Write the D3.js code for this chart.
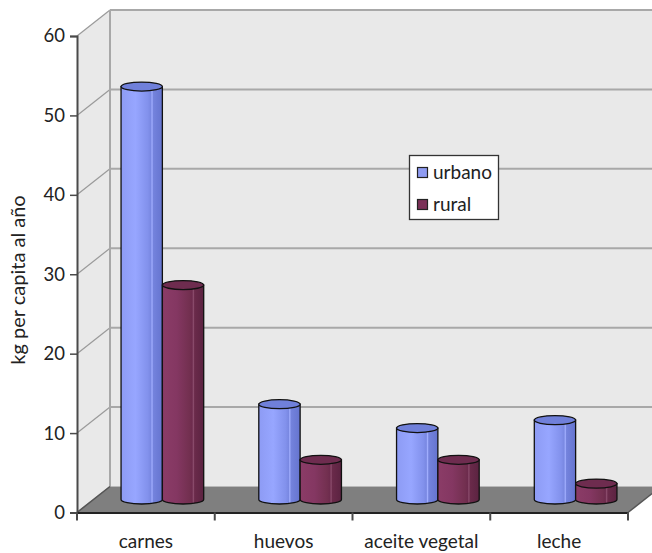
<!DOCTYPE html>
<html><head><meta charset="utf-8">
<script src="https://cdn.jsdelivr.net/npm/d3@7/dist/d3.min.js"></script>
<style>html,body{margin:0;padding:0;background:#fff;}svg{display:block;}</style>
</head><body>
<svg id="chart" width="652" height="553"></svg>
<script>
const categories = ["carnes", "huevos", "aceite vegetal", "leche"];
const seriesNames = ["urbano", "rural"];
const urbano = [52, 12, 9, 10];
const rural = [27, 5, 5, 2];
const yTicks = [0, 10, 20, 30, 40, 50, 60];
const yLabel = "kg per capita al año";

const svg = d3.select("#chart");
const W = 652, H = 553;
const x0 = 77, x1 = 628, yBase = 512.5, yTop = 36;
const DX = 33, DY = -26;
const font = "Lato, 'Open Sans', sans-serif";

const x = d3.scaleBand().domain(categories).range([x0, x1]).padding(0);
const y = d3.scaleLinear().domain([0, 60]).range([yBase, yTop]);

const defs = svg.append("defs");
function grad(id, stops) {
  const g = defs.append("linearGradient").attr("id", id).attr("x1", "0%").attr("x2", "100%").attr("y1", "0%").attr("y2", "0%");
  stops.forEach(s => g.append("stop").attr("offset", s[0]).attr("stop-color", s[1]));
}
grad("gU", [["0%", "#8d9bf4"], ["35%", "#97a6ff"], ["65%", "#8291ec"], ["72%", "#7988e2"], ["75%", "#a2afff"], ["78%", "#7483dd"], ["100%", "#6574cf"]]);
grad("gR", [["0%", "#8b3c67"], ["35%", "#843762"], ["65%", "#733050"], ["72%", "#6d2b4d"], ["75%", "#8c4d6d"], ["78%", "#6a2a4a"], ["100%", "#5b2341"]]);
const topCol = { urbano: "#7080da", rural: "#6e2c4f" };
const legCol = { urbano: "#8f9cf2", rural: "#7b3057" };

// walls
const wallFill = "#e9e9e9";
svg.append("path")
  .attr("d", `M${x0},${y(60)} L${x0 + DX},${y(60) + DY} L${x0 + DX},${y(0) + DY} L${x0},${y(0)} Z`)
  .attr("fill", wallFill);
svg.append("rect").attr("x", x0 + DX).attr("y", y(60) + DY).attr("width", W - (x0 + DX) + 5).attr("height", y(0) - y(60))
  .attr("fill", wallFill);

// gridlines
const grid = svg.append("g");
yTicks.forEach(t => {
  const yy = y(t);
  grid.append("line").attr("x1", x0).attr("y1", yy).attr("x2", x0 + DX).attr("y2", yy + DY)
    .attr("stroke", "#9a9a9a").attr("stroke-width", 1.2);
  if (t > 0) grid.append("line").attr("x1", x0 + DX).attr("y1", yy + DY).attr("x2", W + 5).attr("y2", yy + DY)
    .attr("stroke", "#a8a8a8").attr("stroke-width", 2);
});
grid.append("line").attr("x1", x0 + DX).attr("y1", y(60) + DY).attr("x2", x0 + DX).attr("y2", y(0) + DY)
  .attr("stroke", "#a8a8a8").attr("stroke-width", 2);

// floor
svg.append("path")
  .attr("d", `M${x0},${y(0)} L${x1},${y(0)} L${x1 + DX},${y(0) + DY} L${x0 + DX},${y(0) + DY} Z`)
  .attr("fill", "#7f7f7f");
svg.append("line").attr("x1", x1).attr("y1", y(0)).attr("x2", x1 + DX).attr("y2", y(0) + DY)
  .attr("stroke", "#555").attr("stroke-width", 1.5);
svg.append("line").attr("x1", x0).attr("y1", y(0)).attr("x2", x0 + DX).attr("y2", y(0) + DY)
  .attr("stroke", "#555").attr("stroke-width", 1.5);

// axes
const yAxis = d3.axisLeft(y).tickValues(yTicks).tickSize(7).tickPadding(5);
const gy = svg.append("g").attr("transform", `translate(${x0},0)`).call(yAxis);
gy.select(".domain").attr("stroke", "#4a4a4a").attr("stroke-width", 2);
gy.selectAll(".tick line").attr("stroke", "#4a4a4a").attr("stroke-width", 1.5);
gy.selectAll(".tick text").attr("font-family", font).attr("font-size", 18.5).attr("fill", "#222");

const xAxis = d3.axisBottom(x).tickSize(0).tickPadding(22);
const gx = svg.append("g").attr("transform", `translate(0,${y(0)})`).call(xAxis);
gx.select(".domain").attr("stroke", "#222").attr("stroke-width", 2);
gx.selectAll(".tick text").attr("font-family", font).attr("font-size", 19).attr("fill", "#222");
const bounds = categories.map(c => x(c)).concat([x1]);
svg.append("g").selectAll("line").data(bounds).join("line")
  .attr("x1", d => d).attr("x2", d => d).attr("y1", y(0)).attr("y2", y(0) + 8)
  .attr("stroke", "#4a4a4a").attr("stroke-width", 2);

// y label
svg.append("text").attr("transform", `translate(25,${280}) rotate(-90)`)
  .attr("text-anchor", "middle").attr("font-family", font).attr("font-size", 20).attr("fill", "#222")
  .text(yLabel);

// bars (cylinders) at mid depth
const bw = x.bandwidth() * 0.3;
const rx = bw / 2, ry = 4.5;
const ddx = DX / 2, ddy = DY / 2;
const barData = [];
categories.forEach((c, i) => {
  const cx = x(c) + x.bandwidth() / 2 + ddx;
  barData.push({ s: "urbano", v: urbano[i], xl: cx - bw, grad: "url(#gU)" });
  barData.push({ s: "rural", v: rural[i], xl: cx, grad: "url(#gR)" });
});
const bars = svg.append("g");
barData.forEach(d => {
  const xl = d.xl, xr = d.xl + bw;
  const yb = y(0) + ddy, yt = y(d.v) + ddy;
  bars.append("path")
    .attr("d", `M${xl},${yt} L${xl},${yb} A${rx},${ry} 0 0 0 ${xr},${yb} L${xr},${yt} Z`)
    .attr("fill", d.grad).attr("stroke", "#111").attr("stroke-width", 1.3);
  bars.append("ellipse").attr("cx", xl + rx).attr("cy", yt).attr("rx", rx).attr("ry", ry)
    .attr("fill", topCol[d.s]).attr("stroke", "#111").attr("stroke-width", 1.3);
});

// legend
const lg = svg.append("g");
lg.append("rect").attr("x", 409.5).attr("y", 155.5).attr("width", 89).attr("height", 64)
  .attr("fill", "#fff").attr("stroke", "#333").attr("stroke-width", 1.3);
seriesNames.forEach((s, i) => {
  const yy = 168 + i * 32;
  lg.append("rect").attr("x", 417.5).attr("y", yy - 0.5).attr("width", 10).attr("height", 10)
    .attr("fill", legCol[s]).attr("stroke", "#222").attr("stroke-width", 1.2);
  lg.append("text").attr("x", 433).attr("y", yy + 11).attr("font-family", font).attr("font-size", 19)
    .attr("fill", "#222").text(s);
});
</script>
</body></html>
